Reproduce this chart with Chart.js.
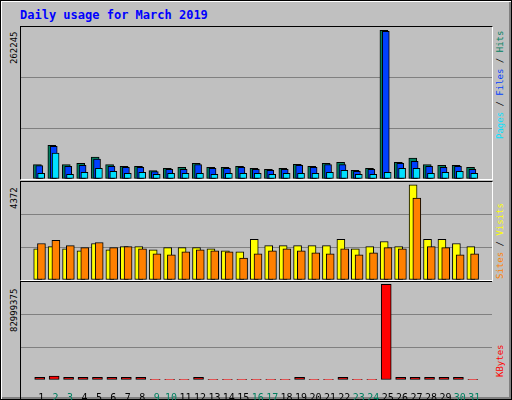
<!DOCTYPE html>
<html><head><meta charset="utf-8">
<script src="https://cdn.jsdelivr.net/npm/chart.js@4"></script>
<style>
html,body{margin:0;padding:0;background:#fff}
#frame{position:absolute;left:0;top:0;width:510px;height:398px;background:#c0c0c0;border:1px solid #000;box-shadow:inset 1px 1px 0 #fff,inset -2px -2px 0 #808080;font-family:"DejaVu Sans Mono",monospace}
.panel{position:absolute;left:19px;width:471px;border-top:1px solid #000;border-left:1px solid #000;border-right:1px solid #fff;border-bottom:1px solid #fff}
canvas{display:block}
.t{position:absolute;font-size:9px;white-space:nowrap;transform-origin:0 0;transform:rotate(-90deg)}
#title{position:absolute;left:19px;top:7px;font-size:12px;font-weight:bold;color:#0000ff}
</style></head><body>
<div id="frame">
<div id="title">Daily usage for March 2019</div>
<div class="panel" style="top:25px;height:152px"><canvas id="c1" width="471" height="152"></canvas></div>
<div class="panel" style="top:180px;height:98px"><canvas id="c2" width="471" height="98"></canvas></div>
<div class="panel" style="top:280px;height:120px;border:none;border-top:1px solid #000;border-left:1px solid #000"><canvas id="c3" width="471" height="118"></canvas></div>
<div class="t" style="left:8px;top:63px;color:#000">262245</div>
<div class="t" style="left:8px;top:208px;color:#000">4372</div>
<div class="t" style="left:8px;top:331px;color:#000">82999375</div>
<div class="t" style="left:494px;top:138px"><span style="color:#00e0ff">Pages</span><span style="color:#000"> / </span><span style="color:#0040ff">Files</span><span style="color:#000"> / </span><span style="color:#008060">Hits</span></div>
<div class="t" style="left:494px;top:278px"><span style="color:#ff8000">Sites</span><span style="color:#000"> / </span><span style="color:#ffff00">Visits</span></div>
<div class="t" style="left:494px;top:376px;color:#ff0000">KBytes</div>
</div>
<script>
const days=[1,2,3,4,5,6,7,8,9,10,11,12,13,14,15,16,17,18,19,20,21,22,23,24,25,26,27,28,29,30,31];
const weekend=[2,3,9,10,16,17,23,24,30,31];
const hits=[25456,59200,25456,27824,38480,25456,22496,22496,14800,18944,20720,27824,20720,20720,22496,18944,17168,18944,26048,22496,27824,29600,15392,18944,262245,29600,36704,25456,24272,24272,20720];
const files=[23680,57424,22496,24272,34928,22496,20720,20720,13024,17168,17168,25456,18944,18944,20720,17168,15392,17168,24272,20720,25456,25456,13616,17168,260480,27824,31376,22496,20720,22496,17168];
const pages=[10064,45584,8288,11840,18944,13616,10064,11840,8288,10064,10064,10064,8288,10064,10064,10064,8288,10064,10064,10064,11840,15392,8288,8288,11840,18944,18944,10064,11840,13616,10064];
const visits=[1436,1531,1436,1341,1673,1389,1531,1531,1389,1483,1483,1483,1436,1341,1294,1862,1578,1578,1578,1578,1578,1862,1436,1531,1767,1531,4372,1862,1862,1673,1531];
const sites=[1673,1815,1578,1483,1720,1483,1531,1436,1199,1152,1294,1389,1341,1294,1010,1199,1341,1436,1341,1247,1199,1436,1152,1247,1483,1436,3756,1531,1483,1152,1199];
const kbytes=[2400000,3300000,2400000,2400000,2400000,2400000,2400000,2400000,200000,200000,200000,2400000,200000,200000,200000,200000,200000,200000,2400000,200000,200000,2400000,200000,200000,82999375,2400000,2400000,2400000,2400000,2400000,200000];

const XMIN=0.13,XMAX=31.7;
function ds(vals,off,color,w){return{data:vals.map((v,i)=>({x:days[i]+off,y:v})),backgroundColor:color,borderColor:'#000',borderWidth:1,barThickness:w,grouped:false,borderSkipped:false};}
function yopt(max){return{min:0,max:max,display:true,afterFit:s=>{s.width=0;},ticks:{display:false,stepSize:max/3,padding:0},border:{display:false},grid:{drawTicks:false,tickLength:0,color:c=>(c.index===0||c.index===3)?'rgba(0,0,0,0)':'#808080'}};}
function xopt(show){return{type:'linear',min:XMIN,max:XMAX,display:show,grid:{display:false},border:{display:false},
 afterBuildTicks:s=>{s.ticks=days.map(d=>({value:d}));},
 afterFit:s=>{if(show)s.height=20;},
 ticks:{autoSkip:false,maxRotation:0,padding:4,font:{family:'DejaVu Sans Mono',size:10},color:c=>weekend.includes(c.tick.value)?'#008060':'#000',callback:v=>String(v)}};}
function mk(id,datasets,max,show){
 new Chart(document.getElementById(id),{type:'bar',data:{datasets},options:{responsive:false,animation:false,
  layout:{padding:0},plugins:{legend:{display:false},tooltip:{enabled:false}},
  scales:{x:xopt(show),y:yopt(max)}}});
}
mk('c1',[ds(pages,0,'#00e0ff',7),ds(files,-0.13,'#0040ff',7),ds(hits,-0.26,'#008060',8)],268100,false);
mk('c2',[ds(sites,0.02,'#ff8000',8),ds(visits,-0.24,'#ffff00',8)],4497,false);
mk('c3',[ds(kbytes,-0.1,'#ff0000',10)],84968000,true);
</script>
</body></html>
